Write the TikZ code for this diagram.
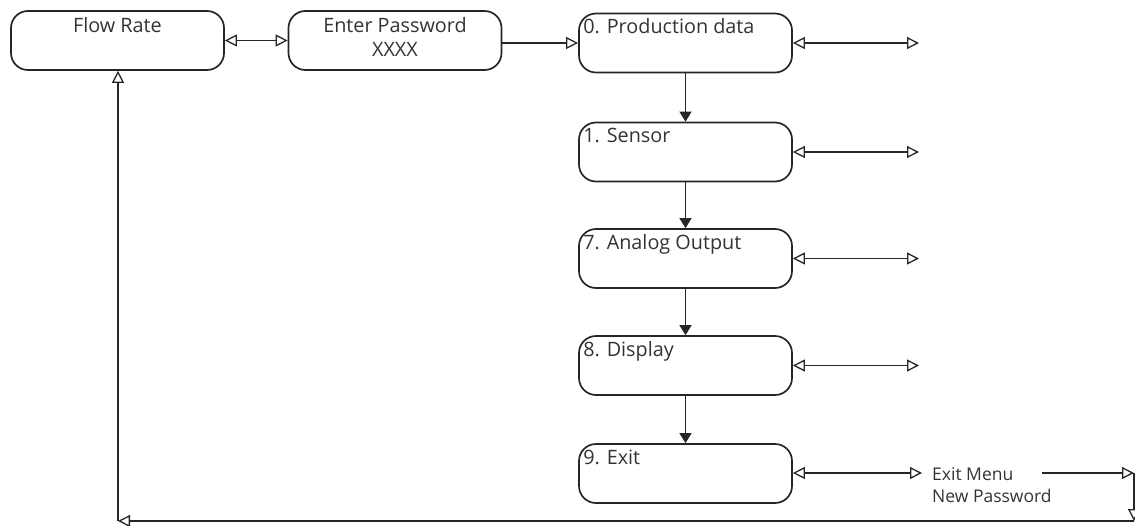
\documentclass[tikz,border=0pt]{standalone}
\usepackage{fontspec}
\setmainfont{Open Sans}
\usetikzlibrary{arrows.meta,calc}
\definecolor{ink}{HTML}{262626}
\definecolor{txt}{HTML}{333333}
\tikzset{
  box/.style={draw=ink, line width=1.7pt, rounded corners=17pt, minimum width=213pt, minimum height=59pt, inner sep=0pt},
  lbl/.style={text=txt, font=\fontsize{19.8}{24}\selectfont, inner sep=0pt},
  conn/.style={draw=ink, line width=1.3pt},
  opentip/.style={-{Triangle[open,length=12pt,width=12pt,line width=1.3pt]}},
  bothtips/.style={{Triangle[open,length=12pt,width=12pt,line width=1.3pt]}-{Triangle[open,length=12pt,width=12pt,line width=1.3pt]}},
  solidtip/.style={-{Triangle[length=10pt,width=12pt]}}
}
\begin{document}
\begin{tikzpicture}[x=1pt,y=-1pt]
\useasboundingbox (0,0) rectangle (1135,525);
% boxes
\node[box] (flow) at (117.5,40.5) {};
\node[box] (pw) at (395,40.5) {};
\node[box] (p0) at (685.5,43) {};
\node[box] (s1) at (685.5,152) {};
\node[box] (a7) at (685.5,258.5) {};
\node[box] (d8) at (685.5,365.5) {};
\node[box] (e9) at (685.5,473.5) {};
% texts
\node[lbl, anchor=base] (tflow) at (117.5,32) {Flow Rate};
\node[lbl, anchor=base, align=center] (tpw) at (395,56) {Enter Password\\XXXX};
\node[lbl, anchor=base west] (tp0) at ($(p0.north west)+(5,21)$) {0. Production data};
\node[lbl, anchor=base west] (ts1) at ($(s1.north west)+(5,21)$) {1. Sensor};
\node[lbl, anchor=base west] (ta7) at ($(a7.north west)+(5,21)$) {7. Analog Output};
\node[lbl, anchor=base west] (td8) at ($(d8.north west)+(5,21)$) {8. Display};
\node[lbl, anchor=base west] (te9) at ($(e9.north west)+(5,21)$) {9. Exit};
\node[lbl, anchor=base west, align=left, font=\fontsize{17.5}{21.5}\selectfont] (em) at (932,502) {Exit Menu\\New Password};
% free ends
\coordinate (r0) at (919,43);
\coordinate (r1) at (919,152);
\coordinate (r7) at (919,258.5);
\coordinate (r8) at (919,365.5);
\coordinate (r9) at (922,473);
\coordinate (emr) at (1042,473);
\coordinate (c1) at (1134,473);
\coordinate (c2) at (1134,521);
\coordinate (c3) at (118,521);
% connectors
\draw[conn,bothtips] (flow.east) -- (pw.west);
\draw[conn,opentip] (pw.east |- p0.west) -- (p0.west);
\draw[conn,solidtip] (p0.south) -- (s1.north);
\draw[conn,solidtip] (s1.south) -- (a7.north);
\draw[conn,solidtip] (a7.south) -- (d8.north);
\draw[conn,solidtip] (d8.south) -- (e9.north);
\draw[conn,bothtips] (p0.east) -- (r0);
\draw[conn,bothtips] (s1.east) -- (r1);
\draw[conn,bothtips] (a7.east) -- (r7);
\draw[conn,bothtips] (d8.east) -- (r8);
\draw[conn,bothtips] (e9.east |- r9) -- (r9);
\draw[conn,opentip] (emr) -- (c1);
\draw[conn,opentip] (c1) -- (c2);
\draw[conn,opentip] (c2) -- (c3);
\draw[conn,opentip] (c3) -- (flow.south -| c3);
\end{tikzpicture}
\end{document}
